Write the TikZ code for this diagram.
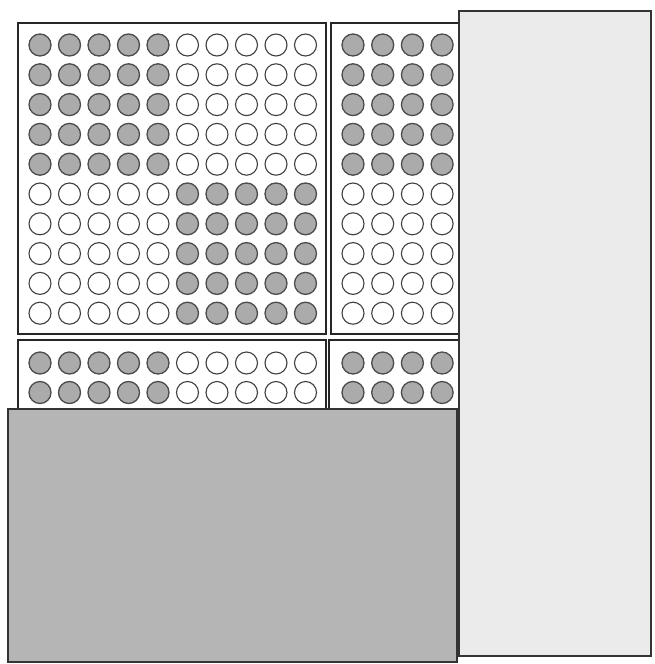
\documentclass[tikz,border=0pt]{standalone}
\begin{document}
\begin{tikzpicture}[x=1pt,y=-1pt,
  box/.style={draw=black!85,line width=1.4pt,fill=white},
  dot/.style={draw=black!75,line width=1.1pt,fill=white},
  gdot/.style={draw=black!70,line width=1.3pt,fill=black!33},
]
\useasboundingbox (0,0) rectangle (655,664);
\fill[white] (0,0) rectangle (655,664);
% boxes
\draw[box] (18,23) rectangle (326,334);
\draw[box] (331,23) rectangle (470,334);
\draw[box] (18,340) rectangle (326,420);
\draw[box] (329,340) rectangle (470,420);
% big box 10x10
\foreach \i in {0,...,9}{
  \foreach \j in {0,...,9}{
    \pgfmathtruncatemacro{\g}{(\i<5 && \j<5) || (\i>4 && \j>4) ? 1 : 0}
    \ifnum\g=1
      \draw[gdot] (40+29.5*\i,45+29.8*\j) circle (11);
    \else
      \draw[dot] (40+29.5*\i,45+29.8*\j) circle (11);
    \fi
  }
}
% right box 4x10
\foreach \i in {0,...,3}{
  \foreach \j in {0,...,9}{
    \ifnum\j<5
      \draw[gdot] (353+29.7*\i,45+29.8*\j) circle (11);
    \else
      \draw[dot] (353+29.7*\i,45+29.8*\j) circle (11);
    \fi
  }
}
% bottom left 10x2
\foreach \i in {0,...,9}{
  \foreach \j in {0,1}{
    \ifnum\i<5
      \draw[gdot] (40+29.5*\i,363+29.5*\j) circle (11);
    \else
      \draw[dot] (40+29.5*\i,363+29.5*\j) circle (11);
    \fi
  }
}
% bottom right 4x2
\foreach \i in {0,...,3}{
  \foreach \j in {0,1}{
    \draw[gdot] (353+29.7*\i,363+29.5*\j) circle (11);
  }
}
% covering rectangles
\draw[line width=1.2pt,draw=black!80,fill=black!29] (8,409) rectangle (457,662);
\draw[line width=1.2pt,draw=black!80,fill=black!8] (459,11) rectangle (651,656);
\end{tikzpicture}
\end{document}
